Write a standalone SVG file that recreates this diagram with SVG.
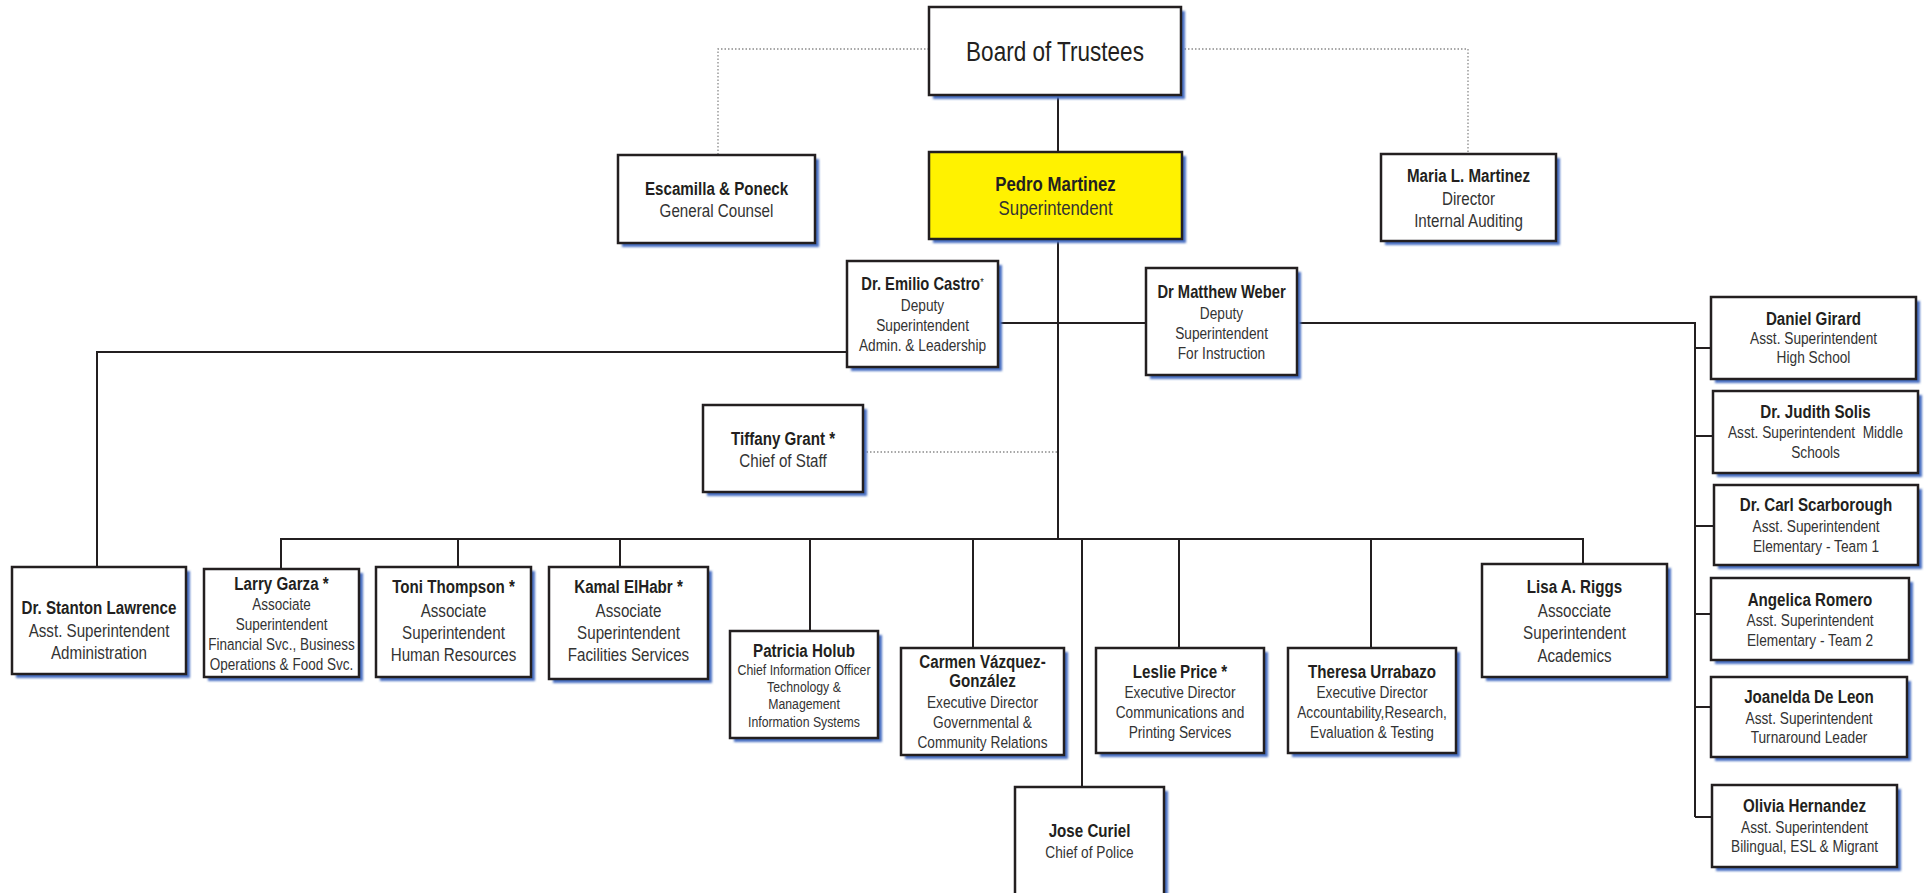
<svg xmlns="http://www.w3.org/2000/svg" width="1925" height="893" viewBox="0 0 1925 893">
<defs>
<filter id="blur" x="-10%" y="-10%" width="120%" height="120%"><feGaussianBlur stdDeviation="1.3"/></filter>
<style>
.box{fill:#fff;stroke:#231f20;stroke-width:2.5}
.yel{fill:#fff200;stroke:#231f20;stroke-width:2.5}
.sh{fill:#4a70c2;filter:url(#blur)}
.ln{stroke:#231f20;stroke-width:2;fill:none}
.dot{stroke:#8a8a8a;stroke-width:1.3;stroke-dasharray:1.5 2;fill:none}
text{font-family:"Liberation Sans",Arial,sans-serif;text-anchor:middle;transform-box:fill-box;transform-origin:center;transform:scaleX(0.82)}
.nm{font-weight:bold;fill:#231f20}
.tt{fill:#333}
</style>
</defs>
<rect width="1925" height="893" fill="#fff"/>

<g id="connectors">
<path class="dot" d="M929,49 H718 V155"/>
<path class="dot" d="M1181,49 H1468 V154"/>
<path class="dot" d="M863,452 H1058"/>
<path class="ln" d="M1058,95 V152"/>
<path class="ln" d="M1058,239 V539"/>
<path class="ln" d="M998,323 H1146"/>
<path class="ln" d="M1297,323 H1695 V817"/>
<path class="ln" d="M1695,348 H1711 M1695,436 H1713 M1695,526 H1714 M1695,614 H1711 M1695,707 H1711 M1695,817 H1712"/>
<path class="ln" d="M847,352 H97 V567"/>
<path class="ln" d="M281,569 V539 H1583 V564"/>
<path class="ln" d="M458,539 V567 M620,539 V567 M810,539 V631 M973,539 V648 M1082,539 V787 M1179,539 V648 M1371,539 V648"/>
</g>

<g id="board">
<rect class="sh" x="933" y="11" width="252" height="88"/>
<rect class="box" x="929" y="7" width="252" height="88"/>
<text x="1055" y="61" font-size="27.5" fill="#231f20">Board of Trustees</text>
</g>

<g id="escamilla">
<rect class="sh" x="622" y="159" width="197" height="88"/>
<rect class="box" x="618" y="155" width="197" height="88"/>
<text class="nm" x="716.5" y="195" font-size="18.5">Escamilla &amp; Poneck</text>
<text class="tt" x="716.5" y="217" font-size="18.5">General Counsel</text>
</g>

<g id="pedro">
<rect class="sh" x="933" y="156" width="253" height="87"/>
<rect class="yel" x="929" y="152" width="253" height="87"/>
<text class="nm" x="1055.5" y="191" font-size="20.5">Pedro Martinez</text>
<text class="tt" x="1055.5" y="215" font-size="20.5">Superintendent</text>
</g>

<g id="maria">
<rect class="sh" x="1385" y="158" width="175" height="87"/>
<rect class="box" x="1381" y="154" width="175" height="87"/>
<text class="nm" x="1468.5" y="182" font-size="18.5">Maria L. Martinez</text>
<text class="tt" x="1468.5" y="205" font-size="18.5">Director</text>
<text class="tt" x="1468.5" y="227" font-size="18.5">Internal Auditing</text>
</g>

<g id="castro">
<rect class="sh" x="851" y="265" width="151" height="106"/>
<rect class="box" x="847" y="261" width="151" height="106"/>
<text class="nm" x="922.5" y="290" font-size="18">Dr. Emilio Castro<tspan font-size="11" font-weight="normal" dy="-4">*</tspan></text>
<text class="tt" x="922.5" y="311" font-size="16.7">Deputy</text>
<text class="tt" x="922.5" y="331" font-size="16.7">Superintendent</text>
<text class="tt" x="922.5" y="351" font-size="16.7">Admin. &amp; Leadership</text>
</g>

<g id="weber">
<rect class="sh" x="1150" y="272" width="151" height="107"/>
<rect class="box" x="1146" y="268" width="151" height="107"/>
<text class="nm" x="1221.5" y="298" font-size="18">Dr Matthew Weber</text>
<text class="tt" x="1221.5" y="319" font-size="16.7">Deputy</text>
<text class="tt" x="1221.5" y="339" font-size="16.7">Superintendent</text>
<text class="tt" x="1221.5" y="359" font-size="16.7">For Instruction</text>
</g>

<g id="tiffany">
<rect class="sh" x="707" y="409" width="160" height="87"/>
<rect class="box" x="703" y="405" width="160" height="87"/>
<text class="nm" x="783" y="445" font-size="18.5">Tiffany Grant *</text>
<text class="tt" x="783" y="467" font-size="18.5">Chief of Staff</text>
</g>

<g id="stanton">
<rect class="sh" x="16" y="571" width="174" height="107"/>
<rect class="box" x="12" y="567" width="174" height="107"/>
<text class="nm" x="99" y="614" font-size="18.5">Dr. Stanton Lawrence</text>
<text class="tt" x="99" y="637" font-size="18.5">Asst. Superintendent</text>
<text class="tt" x="99" y="659" font-size="18.5">Administration</text>
</g>

<g id="larry">
<rect class="sh" x="208" y="573" width="155" height="108"/>
<rect class="box" x="204" y="569" width="155" height="108"/>
<text class="nm" x="281.5" y="590" font-size="18.5">Larry Garza *</text>
<text class="tt" x="281.5" y="610" font-size="16.5">Associate</text>
<text class="tt" x="281.5" y="630" font-size="16.5">Superintendent</text>
<text class="tt" x="281.5" y="650" font-size="16.5">Financial Svc., Business</text>
<text class="tt" x="281.5" y="670" font-size="16.5">Operations &amp; Food Svc.</text>
</g>

<g id="toni">
<rect class="sh" x="380" y="571" width="155" height="110"/>
<rect class="box" x="376" y="567" width="155" height="110"/>
<text class="nm" x="453.5" y="593" font-size="18.5">Toni Thompson *</text>
<text class="tt" x="453.5" y="617" font-size="18.5">Associate</text>
<text class="tt" x="453.5" y="639" font-size="18.5">Superintendent</text>
<text class="tt" x="453.5" y="661" font-size="18.5">Human Resources</text>
</g>

<g id="kamal">
<rect class="sh" x="553" y="571" width="159" height="112"/>
<rect class="box" x="549" y="567" width="159" height="112"/>
<text class="nm" x="628.5" y="593" font-size="18.5">Kamal ElHabr *</text>
<text class="tt" x="628.5" y="617" font-size="18.5">Associate</text>
<text class="tt" x="628.5" y="639" font-size="18.5">Superintendent</text>
<text class="tt" x="628.5" y="661" font-size="18.5">Facilities Services</text>
</g>

<g id="patricia">
<rect class="sh" x="734" y="635" width="148" height="107"/>
<rect class="box" x="730" y="631" width="148" height="107"/>
<text class="nm" x="804" y="657" font-size="18.5">Patricia Holub</text>
<text class="tt" x="804" y="675" font-size="15">Chief Information Officer</text>
<text class="tt" x="804" y="692" font-size="15">Technology &amp;</text>
<text class="tt" x="804" y="709" font-size="15">Management</text>
<text class="tt" x="804" y="727" font-size="15">Information Systems</text>
</g>

<g id="carmen">
<rect class="sh" x="905" y="652" width="163" height="107"/>
<rect class="box" x="901" y="648" width="163" height="107"/>
<text class="nm" x="982.5" y="668" font-size="18.5">Carmen Vázquez-</text>
<text class="nm" x="982.5" y="687" font-size="18.5">González</text>
<text class="tt" x="982.5" y="708" font-size="16.7">Executive Director</text>
<text class="tt" x="982.5" y="728" font-size="16.7">Governmental &amp;</text>
<text class="tt" x="982.5" y="748" font-size="16.7">Community Relations</text>
</g>

<g id="jose">
<rect class="sh" x="1019" y="791" width="149" height="120"/>
<rect class="box" x="1015" y="787" width="149" height="120"/>
<text class="nm" x="1089.5" y="837" font-size="18.5">Jose Curiel</text>
<text class="tt" x="1089.5" y="858" font-size="16.7">Chief of Police</text>
</g>

<g id="leslie">
<rect class="sh" x="1100" y="652" width="168" height="105"/>
<rect class="box" x="1096" y="648" width="168" height="105"/>
<text class="nm" x="1180" y="678" font-size="18.5">Leslie Price *</text>
<text class="tt" x="1180" y="698" font-size="16.7">Executive Director</text>
<text class="tt" x="1180" y="718" font-size="16.7">Communications and</text>
<text class="tt" x="1180" y="738" font-size="16.7">Printing Services</text>
</g>

<g id="theresa">
<rect class="sh" x="1292" y="652" width="168" height="105"/>
<rect class="box" x="1288" y="648" width="168" height="105"/>
<text class="nm" x="1372" y="678" font-size="18.5">Theresa Urrabazo</text>
<text class="tt" x="1372" y="698" font-size="16.7">Executive Director</text>
<text class="tt" x="1372" y="718" font-size="16.7">Accountability,Research,</text>
<text class="tt" x="1372" y="738" font-size="16.7">Evaluation &amp; Testing</text>
</g>

<g id="lisa">
<rect class="sh" x="1486" y="568" width="185" height="113"/>
<rect class="box" x="1482" y="564" width="185" height="113"/>
<text class="nm" x="1574.5" y="593" font-size="18.5">Lisa A. Riggs</text>
<text class="tt" x="1574.5" y="617" font-size="18.5">Assocciate</text>
<text class="tt" x="1574.5" y="639" font-size="18.5">Superintendent</text>
<text class="tt" x="1574.5" y="662" font-size="18.5">Academics</text>
</g>

<g id="daniel">
<rect class="sh" x="1715" y="301" width="205" height="82"/>
<rect class="box" x="1711" y="297" width="205" height="82"/>
<text class="nm" x="1813.5" y="325" font-size="18.5">Daniel Girard</text>
<text class="tt" x="1813.5" y="344" font-size="16.7">Asst. Superintendent</text>
<text class="tt" x="1813.5" y="363" font-size="16.7">High School</text>
</g>

<g id="judith">
<rect class="sh" x="1717" y="395" width="205" height="82"/>
<rect class="box" x="1713" y="391" width="205" height="82"/>
<text class="nm" x="1815.5" y="418" font-size="18.5">Dr. Judith Solis</text>
<text class="tt" x="1815.5" y="438" font-size="16.7" xml:space="preserve">Asst. Superintendent  Middle</text>
<text class="tt" x="1815.5" y="458" font-size="16.7">Schools</text>
</g>

<g id="carl">
<rect class="sh" x="1718" y="489" width="204" height="80"/>
<rect class="box" x="1714" y="485" width="204" height="80"/>
<text class="nm" x="1816" y="511" font-size="18.5">Dr. Carl Scarborough</text>
<text class="tt" x="1816" y="532" font-size="16.7">Asst. Superintendent</text>
<text class="tt" x="1816" y="552" font-size="16.7">Elementary - Team 1</text>
</g>

<g id="angelica">
<rect class="sh" x="1715" y="582" width="198" height="82"/>
<rect class="box" x="1711" y="578" width="198" height="82"/>
<text class="nm" x="1810" y="606" font-size="18.5">Angelica Romero</text>
<text class="tt" x="1810" y="626" font-size="16.7">Asst. Superintendent</text>
<text class="tt" x="1810" y="646" font-size="16.7">Elementary - Team 2</text>
</g>

<g id="joanelda">
<rect class="sh" x="1715" y="681" width="196" height="80"/>
<rect class="box" x="1711" y="677" width="196" height="80"/>
<text class="nm" x="1809" y="703" font-size="18.5">Joanelda De Leon</text>
<text class="tt" x="1809" y="724" font-size="16.7">Asst. Superintendent</text>
<text class="tt" x="1809" y="743" font-size="16.7">Turnaround Leader</text>
</g>

<g id="olivia">
<rect class="sh" x="1716" y="789" width="185" height="82"/>
<rect class="box" x="1712" y="785" width="185" height="82"/>
<text class="nm" x="1804.5" y="812" font-size="18.5">Olivia Hernandez</text>
<text class="tt" x="1804.5" y="833" font-size="16.7">Asst. Superintendent</text>
<text class="tt" x="1804.5" y="852" font-size="16.7">Bilingual, ESL &amp; Migrant</text>
</g>
</svg>
